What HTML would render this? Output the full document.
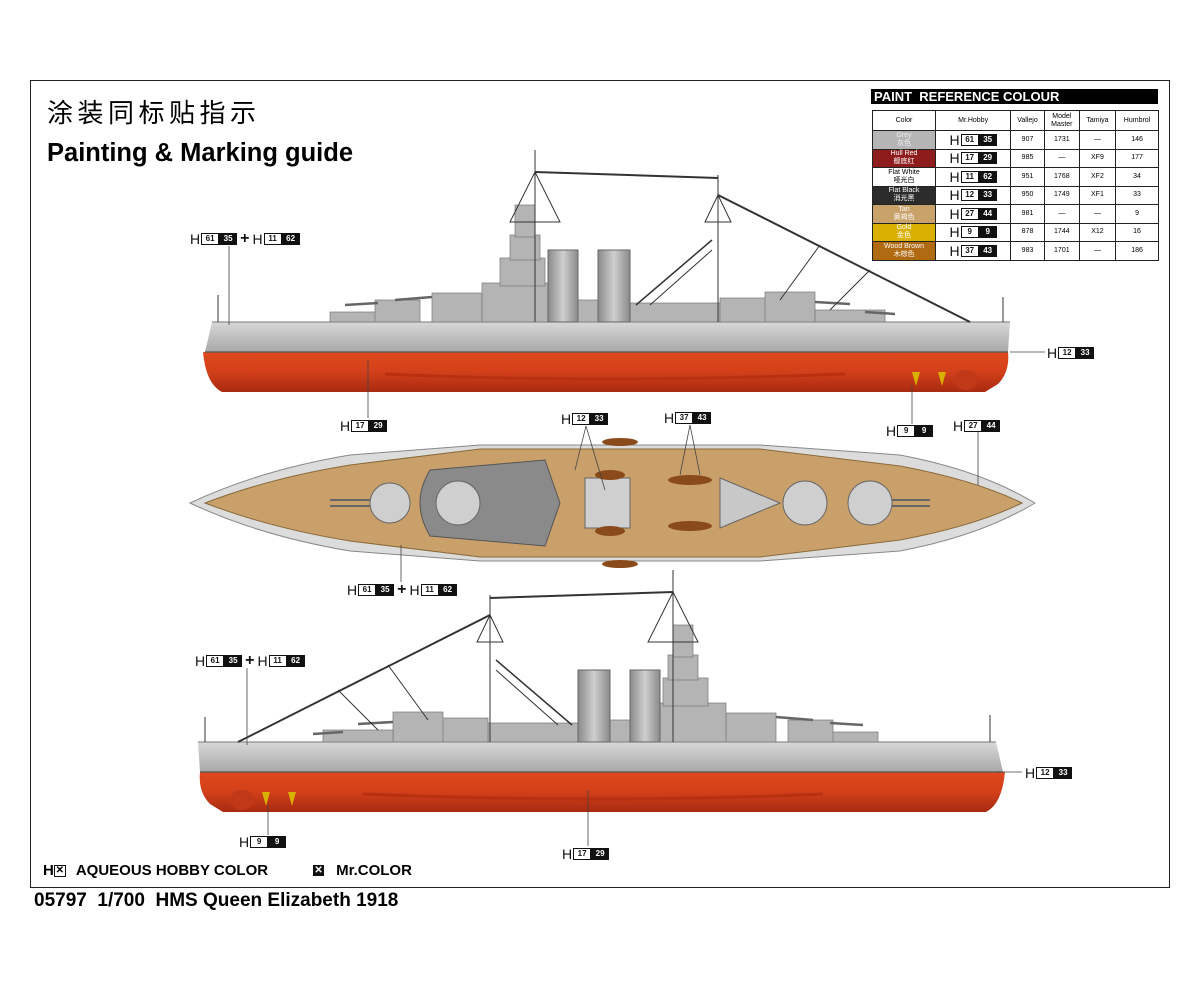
<!DOCTYPE html>
<html><head><meta charset="utf-8"><style>
body{margin:0;width:1200px;height:982px;background:#fff;position:relative;overflow:hidden;font-family:"Liberation Sans","Noto Sans CJK SC",sans-serif}
.a{position:absolute}
.lab{position:absolute;font-size:14px;line-height:14px;white-space:nowrap;display:flex;align-items:center;color:#111}
.lab .w{display:inline-block;border:1px solid #111;font-size:8px;font-weight:bold;width:16px;height:10px;line-height:10px;text-align:center;margin-left:1px}
.lab .b{display:inline-block;background:#111;color:#fff;border:1px solid #111;font-size:8px;font-weight:bold;width:16px;height:10px;line-height:10px;text-align:center}
.lab .p{font-weight:bold;font-size:16px;margin:0 3px}
table{border-collapse:collapse;font-size:7px;position:absolute;left:872px;top:110px;width:287px}
td{border:1px solid #222;text-align:center;height:17.5px;padding:0;line-height:8px}
</style></head><body>
<div class="a" style="left:30px;top:80px;width:1138px;height:806px;border:1.5px solid #222"></div>
<div class="a" style="left:47px;top:93px;font-size:26px;letter-spacing:4.5px;font-family:'Noto Sans CJK SC',sans-serif">涂装同标贴指示</div>
<div class="a" style="left:47px;top:139px;font-size:25.5px;font-weight:bold">Painting &amp; Marking guide</div>
<div class="a" style="left:871px;top:89px;width:287px;height:15px;background:#000;color:#fff;font-weight:bold;font-size:13px;line-height:15px;padding-left:3px;box-sizing:border-box">PAINT&nbsp; REFERENCE COLOUR</div>
<table>
<tr style="height:20px"><td style="width:62px">Color</td><td>Mr.Hobby</td><td>Vallejo</td><td>Model<br>Master</td><td>Tamiya</td><td>Humbrol</td></tr>
<tr><td style="background:#b5b5b5;color:#eee">Grey<br>灰色</td><td><span class="lab" style="position:static;justify-content:center">H<span class="w">61</span><span class="b">35</span></span></td><td>907</td><td>1731</td><td>—</td><td>146</td></tr>
<tr><td style="background:#8e1c1c;color:#fff">Hull Red<br>舰底红</td><td><span class="lab" style="position:static;justify-content:center">H<span class="w">17</span><span class="b">29</span></span></td><td>985</td><td>—</td><td>XF9</td><td>177</td></tr>
<tr><td style="background:#fff">Flat White<br>哑光白</td><td><span class="lab" style="position:static;justify-content:center">H<span class="w">11</span><span class="b">62</span></span></td><td>951</td><td>1768</td><td>XF2</td><td>34</td></tr>
<tr><td style="background:#2c2c2c;color:#fff">Flat Black<br>消光黑</td><td><span class="lab" style="position:static;justify-content:center">H<span class="w">12</span><span class="b">33</span></span></td><td>950</td><td>1749</td><td>XF1</td><td>33</td></tr>
<tr><td style="background:#c9a26a;color:#fff">Tan<br>黄褐色</td><td><span class="lab" style="position:static;justify-content:center">H<span class="w">27</span><span class="b">44</span></span></td><td>981</td><td>—</td><td>—</td><td>9</td></tr>
<tr><td style="background:#d9b100;color:#fff">Gold<br>金色</td><td><span class="lab" style="position:static;justify-content:center">H<span class="w">9</span><span class="b">9</span></span></td><td>878</td><td>1744</td><td>X12</td><td>16</td></tr>
<tr><td style="background:#b06a12;color:#fff">Wood Brown<br>木棕色</td><td><span class="lab" style="position:static;justify-content:center">H<span class="w">37</span><span class="b">43</span></span></td><td>983</td><td>1701</td><td>—</td><td>186</td></tr>
</table>

<svg class="a" style="left:0;top:0" width="1200" height="982">
<defs>
<linearGradient id="red" x1="0" y1="0" x2="0" y2="1"><stop offset="0" stop-color="#e0481c"/><stop offset=".5" stop-color="#d2401a"/><stop offset="1" stop-color="#a82a10"/></linearGradient>
<linearGradient id="gry" x1="0" y1="0" x2="0" y2="1"><stop offset="0" stop-color="#d8d8d8"/><stop offset="1" stop-color="#a8a8a8"/></linearGradient>
<linearGradient id="fun" x1="0" y1="0" x2="1" y2="0"><stop offset="0" stop-color="#8a8a8a"/><stop offset=".5" stop-color="#cfcfcf"/><stop offset="1" stop-color="#8a8a8a"/></linearGradient>
<g id="ship">
<path d="M205,352 L1008,352 Q1010,372 998,384 L985,392 L222,392 Q206,384 203,352 Z" fill="url(#red)"/>
<path d="M385,374 Q600,384 845,374" stroke="#b83010" stroke-width="3" fill="none"/>
<ellipse cx="966" cy="380" rx="12" ry="10" fill="#c03818"/>
<path d="M912,372 l4,14 l4,-14 z M938,372 l4,14 l4,-14 z" fill="#d9b100"/>
<path d="M212,322 L1010,322 L1008,352 L205,352 Z" fill="url(#gry)"/>
<line x1="205" y1="352" x2="1008" y2="352" stroke="#555" stroke-width="1.2"/>
<line x1="212" y1="322" x2="1010" y2="322" stroke="#777"/>
<g fill="#b4b4b4" stroke="#777" stroke-width=".7">
<rect x="330" y="312" width="60" height="10"/><rect x="375" y="300" width="45" height="22"/>
<rect x="432" y="293" width="50" height="29"/><rect x="482" y="283" width="66" height="39"/>
<rect x="500" y="258" width="45" height="28"/><rect x="510" y="235" width="30" height="25"/>
<rect x="515" y="205" width="20" height="32"/>
<rect x="578" y="300" width="20" height="22"/><rect x="630" y="303" width="90" height="19"/>
<rect x="720" y="298" width="50" height="24"/><rect x="765" y="292" width="50" height="30"/>
<rect x="815" y="310" width="70" height="12"/>
</g>
<g stroke="#666" stroke-width="2.5"><line x1="345" y1="305" x2="378" y2="303"/><line x1="395" y1="300" x2="432" y2="297"/><line x1="815" y1="302" x2="850" y2="304"/><line x1="865" y1="312" x2="895" y2="314"/></g>
<rect x="548" y="250" width="30" height="72" fill="url(#fun)" stroke="#666"/>
<rect x="598" y="250" width="32" height="72" fill="url(#fun)" stroke="#666"/>
<g stroke="#333" stroke-width="1" fill="none">
<line x1="535" y1="150" x2="535" y2="322"/><path d="M510,222 L535,172 L560,222 Z"/>
<line x1="718" y1="175" x2="718" y2="322"/><path d="M705,222 L718,195 L731,222 Z"/>
<line x1="535" y1="172" x2="718" y2="178" stroke-width="2"/>
<line x1="718" y1="195" x2="970" y2="322" stroke-width="2"/>
<line x1="820" y1="245" x2="780" y2="300"/><line x1="870" y1="270" x2="830" y2="310"/>
<line x1="712" y1="240" x2="636" y2="305" stroke-width="1.5"/><line x1="712" y1="250" x2="650" y2="305"/>
<line x1="218" y1="295" x2="218" y2="322"/><line x1="1003" y1="297" x2="1003" y2="322"/>
</g>
</g>
</defs>
<use href="#ship"/>
<use href="#ship" transform="translate(1208,420) scale(-1,1)"/>
<path d="M190,503 Q260,470 350,455 L480,445 L760,445 L900,455 Q980,470 1035,503 Q980,536 900,551 L760,561 L480,561 L350,551 Q260,536 190,503 Z" fill="#dcdcdc" stroke="#888"/>
<path d="M205,503 Q270,478 350,465 L480,449 L760,449 L900,466 Q975,480 1022,503 Q975,526 900,540 L760,557 L480,557 L350,541 Q270,528 205,503 Z" fill="#c9a06a" stroke="#8a6a3a"/>
<path d="M430,470 L545,460 L560,503 L545,546 L430,536 Q410,503 430,470 Z" fill="#8a8a8a" stroke="#555"/>
<path d="M720,478 L780,503 L720,528 Z" fill="#c8c8c8" stroke="#666"/>
<g fill="#cfcfcf" stroke="#666">
<circle cx="390" cy="503" r="20"/><circle cx="458" cy="503" r="22"/><circle cx="805" cy="503" r="22"/><circle cx="870" cy="503" r="22"/>
<rect x="585" y="478" width="45" height="50"/>
</g>
<g fill="#8a4a1a"><ellipse cx="620" cy="442" rx="18" ry="4"/><ellipse cx="620" cy="564" rx="18" ry="4"/><ellipse cx="690" cy="480" rx="22" ry="5"/><ellipse cx="690" cy="526" rx="22" ry="5"/><ellipse cx="610" cy="475" rx="15" ry="5"/><ellipse cx="610" cy="531" rx="15" ry="5"/></g>
<g stroke="#666" stroke-width="2"><line x1="330" y1="500" x2="370" y2="500"/><line x1="330" y1="506" x2="370" y2="506"/><line x1="892" y1="500" x2="930" y2="500"/><line x1="892" y1="506" x2="930" y2="506"/></g>
<g stroke="#444" stroke-width=".8">
<line x1="229" y1="246" x2="229" y2="325"/><line x1="1010" y1="352" x2="1045" y2="352"/>
<line x1="368" y1="360" x2="368" y2="418"/><line x1="912" y1="385" x2="912" y2="424"/>
<line x1="586" y1="426" x2="575" y2="470"/><line x1="586" y1="426" x2="605" y2="490"/>
<line x1="690" y1="425" x2="680" y2="475"/><line x1="690" y1="425" x2="700" y2="475"/>
<line x1="978" y1="432" x2="978" y2="485"/><line x1="401" y1="545" x2="401" y2="582"/>
<line x1="247" y1="668" x2="247" y2="745"/><line x1="998" y1="772" x2="1022" y2="772"/>
<line x1="268" y1="805" x2="268" y2="835"/><line x1="588" y1="790" x2="588" y2="846"/>
</g>
</svg>

<div class="lab" style="left:190px;top:232px">H<span class="w">61</span><span class="b">35</span><span class="p">+</span>H<span class="w">11</span><span class="b">62</span></div>
<div class="lab" style="left:1047px;top:346px">H<span class="w">12</span><span class="b">33</span></div>
<div class="lab" style="left:340px;top:419px">H<span class="w">17</span><span class="b">29</span></div>
<div class="lab" style="left:886px;top:424px">H<span class="w">9</span><span class="b">9</span></div>
<div class="lab" style="left:561px;top:412px">H<span class="w">12</span><span class="b">33</span></div>
<div class="lab" style="left:664px;top:411px">H<span class="w">37</span><span class="b">43</span></div>
<div class="lab" style="left:953px;top:419px">H<span class="w">27</span><span class="b">44</span></div>
<div class="lab" style="left:347px;top:583px">H<span class="w">61</span><span class="b">35</span><span class="p">+</span>H<span class="w">11</span><span class="b">62</span></div>
<div class="lab" style="left:195px;top:654px">H<span class="w">61</span><span class="b">35</span><span class="p">+</span>H<span class="w">11</span><span class="b">62</span></div>
<div class="lab" style="left:1025px;top:766px">H<span class="w">12</span><span class="b">33</span></div>
<div class="lab" style="left:239px;top:835px">H<span class="w">9</span><span class="b">9</span></div>
<div class="lab" style="left:562px;top:847px">H<span class="w">17</span><span class="b">29</span></div>

<div class="a" style="left:43px;top:862px;font-size:15px;font-weight:bold;display:flex;align-items:center">H<span style="display:inline-block;border:1.5px solid #111;width:10px;height:10px;font-size:10px;line-height:10px;text-align:center;margin-right:10px">✕</span>AQUEOUS HOBBY COLOR<span style="display:inline-block;background:#111;color:#fff;width:11px;height:11px;font-size:10px;line-height:11px;text-align:center;margin:0 12px 0 45px">✕</span>Mr.COLOR</div>
<div class="a" style="left:34px;top:890px;font-size:19px;font-weight:bold">05797&nbsp; 1/700&nbsp; HMS Queen Elizabeth 1918</div>
</body></html>
